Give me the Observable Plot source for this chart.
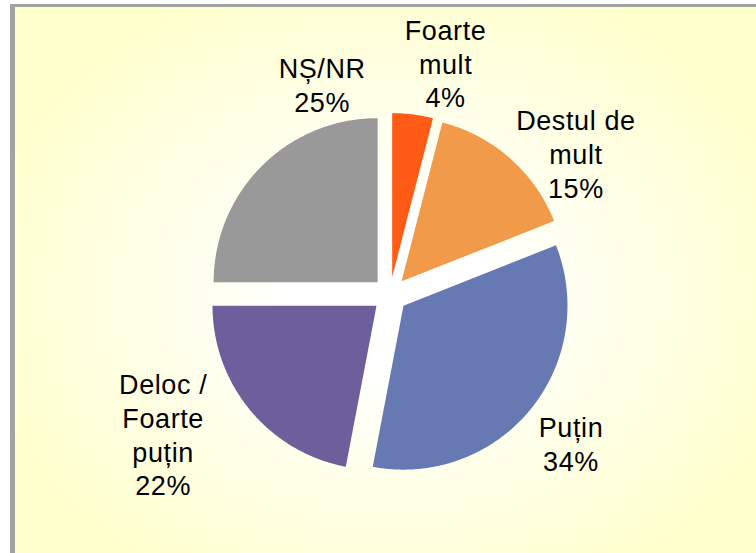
<!DOCTYPE html>
<html><head><meta charset="utf-8">
<script src="https://cdn.jsdelivr.net/npm/d3@7"></script>
<script src="https://cdn.jsdelivr.net/npm/@observablehq/plot@0.6"></script>
<style>
html,body{margin:0;padding:0;width:756px;height:553px;overflow:hidden;background:#fff;}
#frame{position:absolute;left:10px;top:4px;width:800px;height:600px;border-left:5px solid #a3a3a3;border-top:3px solid #a3a3a3;
  background:radial-gradient(ellipse 430px 340px at 375px 287px, #ffffff 0%, #ffffff 22%, #ffffcc 100%);}
#chart{position:absolute;left:0;top:0;}
#chart text{letter-spacing:0.6px;}
</style></head><body>
<div id="frame"></div><div id="chart"></div>
<script>
// ---- data ----
const categories = ["Foarte mult", "Destul de mult", "Puțin", "Deloc / Foarte puțin", "NȘ/NR"];
const labelLines = ["Foarte\nmult", "Destul de\nmult", "Puțin", "Deloc /\nFoarte\npuțin", "NȘ/NR"];
const values = [4, 15, 34, 22, 25];
const colors = ["#ff5a16", "#f09a4a", "#6779b3", "#6c5f9c", "#999999"];

// ---- layout (pixels of the 756x553 page) ----
const W = 756, H = 553;
const cx = 389.5, cy = 294, R = 164, explodePx = 17.5;
// label placement: [angle clockwise from 12 o'clock (deg), distance in radii]
const labelPolar = [[13.5, 1.452], [52.8, 1.423], [129.35, 1.427], [238.4, 1.624], [342.1, 1.346]];

const total = d3.sum(values);
const explode = explodePx / R;
const rad = a => a * Math.PI / 180;
const pts = [];
const labels = [];
let acc = 0;
values.forEach((v, i) => {
  const a0 = acc / total * 360, a1 = (acc + v) / total * 360;
  acc += v;
  const mid = (a0 + a1) / 2;
  const ox = explode * Math.sin(rad(mid)), oy = explode * Math.cos(rad(mid));
  pts.push({cat: categories[i], x: ox, y: oy});
  const n = Math.max(2, Math.ceil((a1 - a0) * 2));
  for (let k = 0; k <= n; k++) {
    const a = a0 + (a1 - a0) * k / n;
    pts.push({cat: categories[i], x: ox + Math.sin(rad(a)), y: oy + Math.cos(rad(a))});
  }
  pts.push({cat: categories[i], x: ox, y: oy});
  const [la, lr] = labelPolar[i];
  labels.push({x: lr * Math.sin(rad(la)), y: lr * Math.cos(rad(la)), text: labelLines[i] + "\n" + v + "%"});
});

const chart = Plot.plot({
  width: W, height: H,
  margin: 0,
  style: {background: "transparent", overflow: "visible"},
  x: {domain: [-cx / R, (W - cx) / R], axis: null},
  y: {domain: [-(H - cy) / R, cy / R], axis: null},
  color: {domain: categories, range: colors},
  marks: [
    Plot.line(pts, {x: "x", y: "y", z: "cat", fill: "cat", stroke: null, curve: "linear"}),
    Plot.text(labels, {x: "x", y: "y", text: "text", fontSize: 27, lineHeight: 1.25,
      fontFamily: "'Liberation Sans', Arial, sans-serif", fill: "#000", textAnchor: "middle"})
  ]
});
document.getElementById("chart").appendChild(chart);
</script>
</body></html>
